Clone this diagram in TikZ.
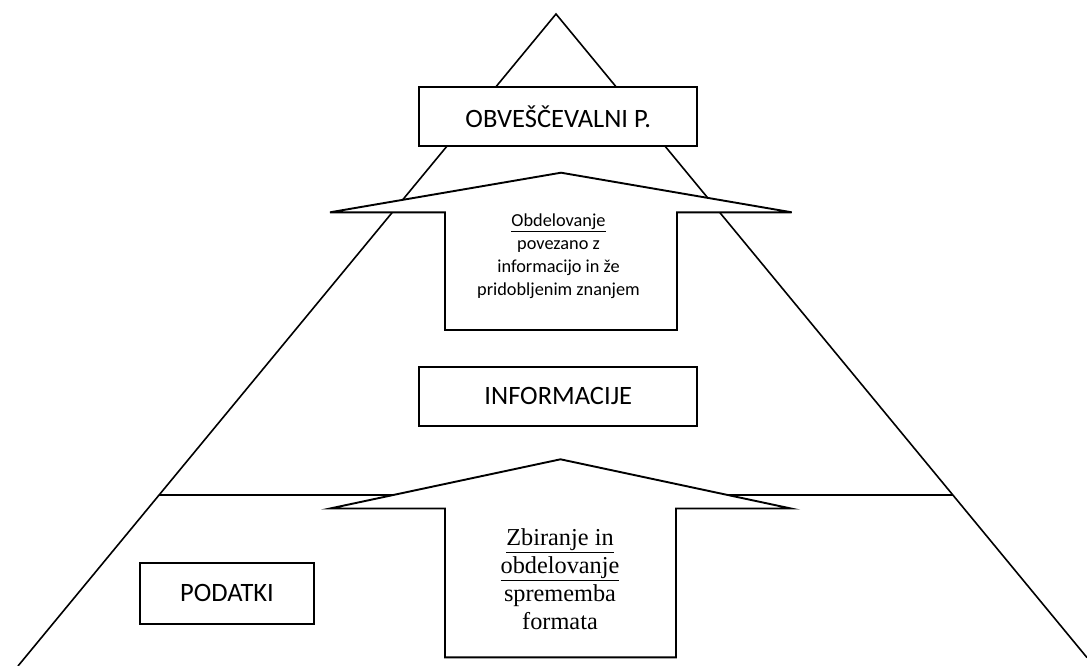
\documentclass[tikz,border=0pt]{standalone}
\usepackage{fontspec}
\setmainfont{Liberation Serif}
\newfontfamily\calfont{Carlito}
\begin{document}
\begin{tikzpicture}[x=1pt,y=-1pt,
  tri/.style={line width=1.6pt},
  lbox/.style={draw,fill=white,line width=2pt,minimum width=278pt,minimum height=59pt,inner sep=0pt,font=\calfont\fontsize{26.5}{30}\selectfont},
  arr/.style={draw,fill=white,line width=1.9pt,line join=miter},
  atxt/.style={align=center,inner sep=0pt}]
\useasboundingbox (0,0) rectangle (1087,666);
% pyramid
\coordinate (apex) at (556,14);
\coordinate (bl) at (18,666);
\coordinate (br) at (1087,657.6);
\draw[tri] (bl) -- (apex) -- (br);
\coordinate (hl) at (159.2,495);
\coordinate (hr) at (952.8,495);
\draw[tri] (hl) -- (hr);
% boxes
\node[lbox] (obv) at (558.3,117) {OBVEŠČEVALNI P.};
\node[lbox] (inf) at (558.3,396) {INFORMACIJE};
\node[lbox,minimum width=174pt,minimum height=61pt] (pod) at (227,593) {PODATKI};
% upper arrow
\draw[arr] (561,172.7) -- (791.7,212.3) -- (677,212.3) -- (677,330) -- (445,330) -- (445,212.3) -- (330,212.3) -- cycle;
\node[atxt,font=\calfont\fontsize{18.3}{23}\selectfont] (t1) at (558.5,256) {\underline{Obdelovanje}\\povezano z\\informacijo in že\\pridobljenim znanjem};
% lower arrow
\draw[arr] (560.5,459.3) -- (791,508.5) -- (676,508.5) -- (676,657.3) -- (445,657.3) -- (445,508.5) -- (330,508.5) -- cycle;
\node[atxt,font=\fontsize{24.3}{28}\selectfont] (t2) at (560,579) {\underline{Zbiranje in}\\\underline{obdelovanje}\\sprememba\\formata};
\end{tikzpicture}
\end{document}
